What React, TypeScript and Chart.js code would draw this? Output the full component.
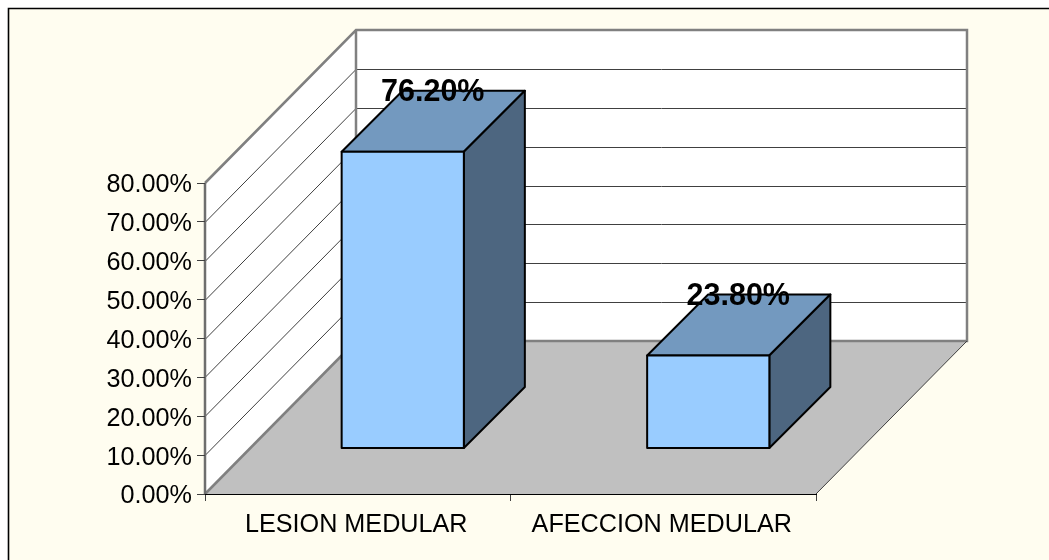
import React, { useEffect, useRef } from "react";
import { Chart, registerables } from "chart.js";

Chart.register(...registerables);

const categories = ["LESION MEDULAR", "AFECCION MEDULAR"];
const shares = [76.2, 23.8];
const shareLabels = ["76.20%", "23.80%"];
const axisMax = 80;
const axisStep = 10;

const FONT = '"Liberation Sans", Arial, sans-serif';
const PLOT = { left: 205, right: 816, top: 183, bottom: 494 };
const ROOM_DEPTH = { x: 151, y: 153 };
const BAR_SHIFT = { x: 45, y: 46 };
const BAR_DEPTH = 61;

function polygon(ctx: CanvasRenderingContext2D, pts: number[][], fill?: string, stroke?: string, lw = 1) {
  ctx.beginPath();
  pts.forEach(([x, y], i) => (i ? ctx.lineTo(x, y) : ctx.moveTo(x, y)));
  if (fill) {
    ctx.closePath();
    ctx.fillStyle = fill;
  }
  if (fill) ctx.fill();
  if (stroke) {
    ctx.strokeStyle = stroke;
    ctx.lineWidth = lw;
    ctx.stroke();
  }
}

// Nudges a scale's tick labels away from their default anchor.
function nudgeLabels(scale: any, dx: number, dy: number) {
  for (const item of scale.getLabelItems()) {
    if (!item.options.nudged) {
      const [tx, ty] = item.options.translation;
      item.options.translation = [tx + dx, ty + dy];
      item.options.nudged = true;
    }
  }
}

// Paper, side wall, back wall and floor of the 3D room behind the bars.
const roomPlugin = {
  id: "room",
  beforeDraw(chart: any) {
    const { ctx, scales } = chart;
    const { left: l, right: r, top: t, bottom: b } = chart.chartArea;
    const dx = ROOM_DEPTH.x;
    const dy = ROOM_DEPTH.y;
    const yScale = scales.y;

    nudgeLabels(yScale, 0, 2.5);
    nudgeLabels(scales.x, -1.5, 0);

    ctx.save();
    ctx.fillStyle = "#FFFDF0";
    ctx.fillRect(9, 8, chart.width - 9, chart.height - 8);
    polygon(ctx, [[8.5, chart.height], [8.5, 8.5], [chart.width, 8.5]], undefined, "#000000", 1.6);

    polygon(ctx, [[l, b], [l, t], [l + dx, t - dy], [l + dx, b - dy]], "#FFFFFF");
    polygon(ctx, [[l + dx, b - dy], [l + dx, t - dy], [r + dx, t - dy], [r + dx, b - dy]], "#FFFFFF");
    polygon(ctx, [[l, b], [r, b], [r + dx, b - dy], [l + dx, b - dy]], "#C0C0C0");

    for (const tick of yScale.ticks) {
      if (tick.value === 0) continue;
      const y = Math.round(yScale.getPixelForValue(tick.value)) + 0.5;
      polygon(ctx, [[l, y], [l + dx, y - dy], [r + dx, y - dy]], undefined, "#404040", 1);
    }

    polygon(ctx, [[l, t], [l + dx, t - dy], [r + dx, t - dy], [r + dx, b - dy], [l + dx, b - dy], [l + dx, t - dy]], undefined, "#808080", 2.5);
    polygon(ctx, [[l, b], [l + dx, b - dy]], undefined, "#808080", 2.5);
    polygon(ctx, [[l, b], [l, t]], undefined, "#6E6E6E", 2.5);
    polygon(ctx, [[r, b], [r + dx, b - dy]], undefined, "#404040", 1);
    ctx.restore();
  },
};

// Lifts the library's bars off the axis plane and adds their top and side faces.
const depthPlugin = {
  id: "depth",
  beforeDatasetsDraw(chart: any) {
    const { ctx } = chart;
    ctx.save();
    ctx.translate(BAR_SHIFT.x, -BAR_SHIFT.y);
    const base = chart.scales.y.getPixelForValue(0);
    for (const bar of chart.getDatasetMeta(0).data) {
      const half = bar.width / 2;
      const x0 = bar.x - half;
      const x1 = bar.x + half;
      const d = BAR_DEPTH;
      ctx.lineJoin = "round";
      polygon(ctx, [[x0, bar.y], [x0 + d, bar.y - d], [x1 + d, bar.y - d], [x1, bar.y]], "#7399BF", "#000000", 2);
      polygon(ctx, [[x1, bar.y], [x1 + d, bar.y - d], [x1 + d, base - d], [x1, base]], "#4D6680", "#000000", 2);
    }
  },
  afterDatasetsDraw(chart: any) {
    const { ctx } = chart;
    const base = chart.scales.y.getPixelForValue(0);
    // Outline of the front faces, still in the lifted coordinates.
    for (const bar of chart.getDatasetMeta(0).data) {
      const half = bar.width / 2;
      ctx.lineWidth = 2;
      ctx.strokeStyle = "#000000";
      ctx.strokeRect(bar.x - half, bar.y, bar.width, base - bar.y);
    }
    ctx.restore();

    ctx.save();
    ctx.font = `bold 30.5px ${FONT}`;
    ctx.fillStyle = "#000000";
    ctx.textAlign = "center";
    ctx.textBaseline = "middle";
    chart.getDatasetMeta(0).data.forEach((bar: any, i: number) => {
      ctx.fillText(
        shareLabels[i],
        bar.x + BAR_SHIFT.x + BAR_DEPTH / 2 - 0.5,
        bar.y - BAR_SHIFT.y - BAR_DEPTH + 2
      );
    });
    ctx.restore();
  },
};

export default function App() {
  const ref = useRef<HTMLCanvasElement>(null);

  useEffect(() => {
    const chart = new Chart(ref.current!, {
      type: "bar",
      data: {
        labels: categories,
        datasets: [
          {
            data: shares,
            backgroundColor: "#99CCFF",
            borderWidth: 0,
            categoryPercentage: 1,
            barPercentage: 0.4,
            clip: false,
          } as any,
        ],
      },
      options: {
        animation: false,
        responsive: false,
        layout: {
          padding: { left: 0, top: PLOT.top, right: 1049 - PLOT.right, bottom: 0 },
        },
        plugins: { legend: { display: false }, tooltip: { enabled: false } },
        scales: {
          x: {
            afterFit(scale: any) {
              scale.height = 560 - PLOT.bottom;
            },
            grid: {
              drawOnChartArea: false,
              drawTicks: true,
              tickLength: 7,
              color: "#404040",
            },
            border: { display: true, color: "#000000", width: 1 },
            ticks: {
              font: { family: FONT, size: 25.2 },
              color: "#000000",
              padding: 9,
              maxRotation: 0,
              autoSkip: false,
            },
          },
          y: {
            min: 0,
            max: axisMax,
            afterFit(scale: any) {
              scale.width = PLOT.left;
            },
            grid: {
              drawOnChartArea: false,
              drawTicks: true,
              tickLength: 8,
              color: "#404040",
            },
            border: { display: false },
            ticks: {
              stepSize: axisStep,
              font: { family: FONT, size: 25.2 },
              color: "#000000",
              padding: 5,
              callback: (v: any) => `${Number(v).toFixed(2)}%`,
            },
          },
        },
      },
      plugins: [roomPlugin, depthPlugin],
    });
    return () => chart.destroy();
  }, []);

  return (
    <canvas
      ref={ref}
      width={1049}
      height={560}
      style={{ position: "fixed", left: 0, top: 0, width: 1049, height: 560, display: "block" }}
    />
  );
}
